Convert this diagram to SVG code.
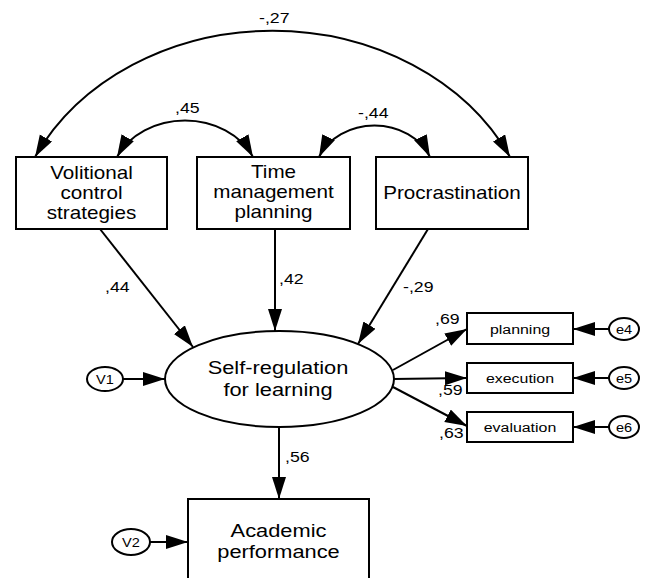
<svg xmlns="http://www.w3.org/2000/svg" width="645" height="578" viewBox="0 0 645 578">
<defs>
<marker id="ah" markerUnits="userSpaceOnUse" markerWidth="24" markerHeight="16" refX="22" refY="7" orient="auto-start-reverse" viewBox="0 0 24 16">
<path d="M0,0 L22,7 L0,14 z" fill="#000"/>
</marker>
<style>
text{font-family:"Liberation Sans",Arial,sans-serif;fill:#000;text-anchor:middle}
.big{font-size:17.5px}
.lat{font-size:18.5px}
.lab{font-size:15px;text-anchor:start}
.sm{font-size:13.5px}
.err{font-size:13px}
.n rect,.n ellipse{fill:#fff;stroke:#000;stroke-width:2}
.c path,.c line{fill:none;stroke:#000;stroke-width:2}
</style>
</defs>
<rect x="0" y="0" width="645" height="578" fill="#fff"/>
<g class="c" id="connectors">
<path d="M35,157 A264,224 0 0 1 510,157" marker-start="url(#ah)" marker-end="url(#ah)"/>
<path d="M117,157 A75,63 0 0 1 253,157" marker-start="url(#ah)" marker-end="url(#ah)"/>
<path d="M319,157 A60,51 0 0 1 430,157" marker-start="url(#ah)" marker-end="url(#ah)"/>
<line x1="100" y1="229" x2="193" y2="347" marker-end="url(#ah)"/>
<line x1="275" y1="229" x2="275" y2="331" marker-end="url(#ah)"/>
<line x1="428" y1="229" x2="358" y2="344" marker-end="url(#ah)"/>
<line x1="123" y1="379" x2="165" y2="379" marker-end="url(#ah)"/>
<line x1="150" y1="542" x2="188" y2="542" marker-end="url(#ah)"/>
<line x1="279" y1="427" x2="279" y2="499" marker-end="url(#ah)"/>
<line x1="393" y1="370" x2="467" y2="329" marker-end="url(#ah)"/>
<line x1="393" y1="379" x2="467" y2="378" marker-end="url(#ah)"/>
<line x1="393" y1="387" x2="467" y2="426" marker-end="url(#ah)"/>
<line x1="609" y1="329" x2="573" y2="329" marker-end="url(#ah)"/>
<line x1="609" y1="378" x2="573" y2="378" marker-end="url(#ah)"/>
<line x1="609" y1="427" x2="573" y2="427" marker-end="url(#ah)"/>
<text class="lab" transform="translate(259 23) scale(1.18 1)">-,27</text>
<text class="lab" transform="translate(175 113) scale(1.18 1)">,45</text>
<text class="lab" transform="translate(358 118) scale(1.18 1)">-,44</text>
<text class="lab" transform="translate(105 292) scale(1.18 1)">,44</text>
<text class="lab" transform="translate(279 284) scale(1.18 1)">,42</text>
<text class="lab" transform="translate(403 292) scale(1.18 1)">-,29</text>
<text class="lab" transform="translate(435 324) scale(1.18 1)">,69</text>
<text class="lab" transform="translate(438 395) scale(1.18 1)">,59</text>
<text class="lab" transform="translate(439 438) scale(1.18 1)">,63</text>
<text class="lab" transform="translate(285 462) scale(1.18 1)">,56</text>
</g>
<g class="n" id="volitional">
<rect x="16" y="157" width="151" height="72"/>
<text class="big" transform="translate(91.5 179) scale(1.18 1)">Volitional</text>
<text class="big" transform="translate(91.5 199) scale(1.18 1)">control</text>
<text class="big" transform="translate(91.5 219) scale(1.18 1)">strategies</text>
</g>
<g class="n" id="time">
<rect x="197" y="157" width="153" height="72"/>
<text class="big" transform="translate(273.5 178) scale(1.18 1)">Time</text>
<text class="big" transform="translate(273.5 198) scale(1.18 1)">management</text>
<text class="big" transform="translate(273.5 218) scale(1.18 1)">planning</text>
</g>
<g class="n" id="procrastination">
<rect x="376" y="157" width="152" height="72"/>
<text class="big" transform="translate(452 199) scale(1.18 1)">Procrastination</text>
</g>
<g class="n" id="selfreg">
<ellipse cx="279.5" cy="379" rx="114.5" ry="48"/>
<text class="lat" transform="translate(278 374) scale(1.18 1)">Self-regulation</text>
<text class="lat" transform="translate(278 396) scale(1.18 1)">for learning</text>
</g>
<g class="n" id="academic">
<rect x="188" y="499" width="181" height="95"/>
<text class="lat" transform="translate(278.5 537) scale(1.18 1)">Academic</text>
<text class="lat" transform="translate(278.5 558) scale(1.18 1)">performance</text>
</g>
<g class="n" id="v1">
<ellipse cx="105" cy="379" rx="18" ry="12"/>
<text class="err" transform="translate(105 384) scale(1.12 1)">V1</text>
</g>
<g class="n" id="v2">
<ellipse cx="131" cy="542" rx="19" ry="13"/>
<text class="err" transform="translate(131 547) scale(1.12 1)">V2</text>
</g>
<g class="n" id="planning">
<rect x="467" y="313" width="106" height="31"/>
<text class="sm" transform="translate(520 334) scale(1.18 1)">planning</text>
</g>
<g class="n" id="execution">
<rect x="467" y="363" width="106" height="30"/>
<text class="sm" transform="translate(520 383) scale(1.18 1)">execution</text>
</g>
<g class="n" id="evaluation">
<rect x="467" y="412" width="106" height="30"/>
<text class="sm" transform="translate(520 432) scale(1.18 1)">evaluation</text>
</g>
<g class="n" id="e4">
<ellipse cx="624" cy="329" rx="15" ry="11"/>
<text class="err" transform="translate(624 334) scale(1.12 1)">e4</text>
</g>
<g class="n" id="e5">
<ellipse cx="624" cy="378" rx="15" ry="11"/>
<text class="err" transform="translate(624 383) scale(1.12 1)">e5</text>
</g>
<g class="n" id="e6">
<ellipse cx="624" cy="427" rx="15" ry="11"/>
<text class="err" transform="translate(624 432) scale(1.12 1)">e6</text>
</g>
</svg>
